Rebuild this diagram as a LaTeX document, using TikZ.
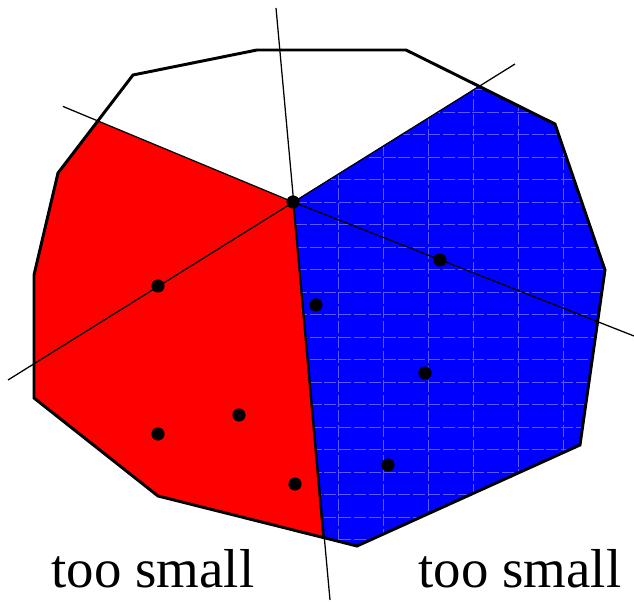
\documentclass[tikz,border=0pt]{standalone}
\usepackage{fontspec}
\setmainfont{Liberation Serif}
\usetikzlibrary{calc}
\definecolor{cellred}{RGB}{255,0,0}
\definecolor{cellblue}{RGB}{0,0,255}
\definecolor{gridblue}{RGB}{90,90,255}
\tikzset{
  % Polygon outline and cell fills
  outline/.style={draw=black, line width=2.1pt, line join=miter},
  gridline/.style={draw=gridblue, line width=0.5pt, dash pattern=on 0.3cm off 0.07cm},
  % Cutting lines through the center site
  cutline/.style={draw=black, line width=0.9pt},
  site/.style={circle, fill=black, inner sep=0pt, minimum size=0.33cm},
  label/.style={font=\fontsize{39}{45}\selectfont, anchor=base, inner sep=0pt}
}
\begin{document}
\begin{tikzpicture}[x=0.025cm, y=-0.025cm]
  \useasboundingbox (0,0) rectangle (634,602);

  % Outline vertices
  \coordinate (p1) at (133,75);
  \coordinate (p2) at (257,50);
  \coordinate (p3) at (406,50);
  \coordinate (p4) at (555,124);
  \coordinate (p5) at (605,270);
  \coordinate (p6) at (580,445);
  \coordinate (p7) at (357,546);
  \coordinate (p8) at (158,496);
  \coordinate (p9) at (34,398);
  \coordinate (p10) at (34,275);
  \coordinate (p11) at (58,173);

  % Center and cut points on the outline
  \coordinate (c) at (293,202);
  \coordinate (ca) at (98,121);
  \coordinate (cb) at (479,86);
  \coordinate (cd) at (323,538);

  % Cells
  \fill[cellred] (ca) -- (c) -- (cd) -- (p8) -- (p9) -- (p10) -- (p11) -- cycle;
  \fill[cellblue] (c) -- (cb) -- (p4) -- (p5) -- (p6) -- (p7) -- (cd) -- cycle;

  % Grid on the blue cell
  \begin{scope}
    \clip (c) -- (cb) -- (p4) -- (p5) -- (p6) -- (p7) -- (cd) -- cycle;
    \foreach \gx in {293,338,...,610}
      \draw[gridline] (\gx,40) -- (\gx,560);
    \foreach \gy in {67,89.5,...,560}
      \draw[gridline] (280,\gy) -- (620,\gy);
  \end{scope}

  \draw[outline] (p1) -- (p2) -- (p3) -- (p4) -- (p5) -- (p6) -- (p7)
    -- (p8) -- (p9) -- (p10) -- (p11) -- cycle;

  % Cut lines
  \coordinate (l1a) at ($(c)!1.18!(ca)$);
  \coordinate (l1b) at (634,336);
  \coordinate (l2a) at (8,380);
  \coordinate (l2b) at (515,64);
  \coordinate (l3a) at (276,8);
  \coordinate (l3b) at (330,600);
  \draw[cutline] (l1a) -- (c) -- (l1b);
  \draw[cutline] (l2a) -- (l2b);
  \draw[cutline] (l3a) -- (l3b);
  \draw[cutline] (c) -- (cd);

  % Sites
  \node[site] (s0) at (c) {};
  \node[site] (s1) at (158,286) {};
  \node[site] (s2) at (316,305) {};
  \node[site] (s3) at (440,260) {};
  \node[site] (s4) at (425,373) {};
  \node[site] (s5) at (239,415) {};
  \node[site] (s6) at (158,434) {};
  \node[site] (s7) at (295,484) {};
  \node[site] (s8) at (388,465) {};

  % Labels
  \node[label] (lleft) at (153,588) {too small};
  \node[label] (lright) at (520,588) {too small};
\end{tikzpicture}
\end{document}
